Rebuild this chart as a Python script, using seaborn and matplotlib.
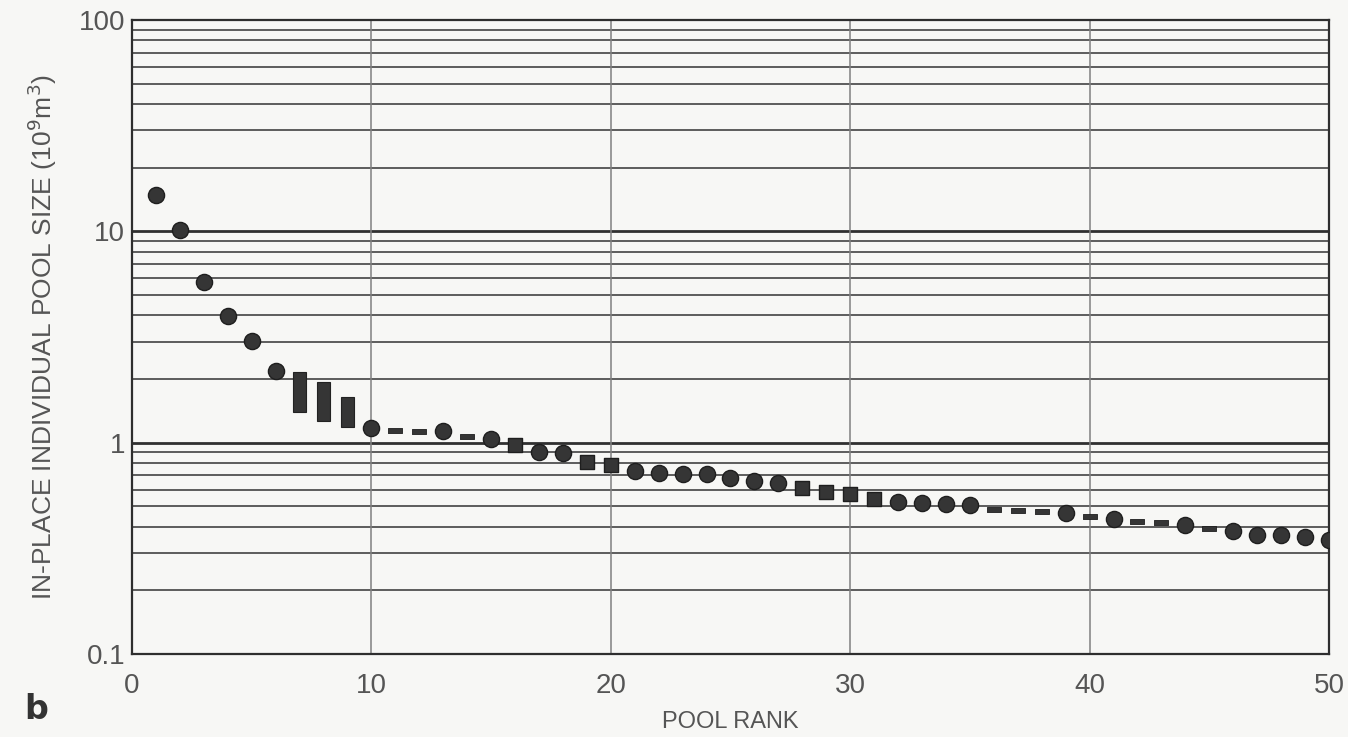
import pandas as pd
import seaborn as sns
import matplotlib.pyplot as plt
from matplotlib import font_manager

# Pool rank vs in-place pool size (10^9 m^3)
circle_rank = [1, 2, 3, 4, 5, 6, 10, 13, 15, 17, 18, 21, 22, 23, 24, 25, 26, 27,
               32, 33, 34, 35, 39, 41, 44, 46, 47, 48, 49, 50]
circle_size = [14.9, 10.1, 5.75, 3.97, 3.03, 2.19, 1.17, 1.13, 1.04, 0.907, 0.89,
               0.735, 0.722, 0.707, 0.707, 0.681, 0.662, 0.643, 0.523, 0.517, 0.514,
               0.505, 0.464, 0.437, 0.410, 0.380, 0.364, 0.364, 0.357, 0.348]
square_rank = [16, 19, 20, 28, 29, 30, 31]
square_size = [0.975, 0.814, 0.787, 0.611, 0.583, 0.569, 0.542]
dash_rank = [11, 12, 14, 36, 37, 38, 40, 42, 43, 45]
dash_size = [1.15, 1.14, 1.075, 0.483, 0.478, 0.476, 0.452, 0.425, 0.421, 0.396]
range_rank = [7, 8, 9]
range_low = [1.40, 1.26, 1.18]
range_high = [2.15, 1.94, 1.64]

x_ticks = [0, 10, 20, 30, 40, 50]
y_ticks = [0.1, 1, 10, 100]
y_tick_labels = ['0.1', '1', '10', '100']

sns.set_style('white')
names = {f.name for f in font_manager.fontManager.ttflist}
narrow = 'Liberation Sans Narrow' if 'Liberation Sans Narrow' in names else 'Liberation Sans'
plt.rcParams['font.family'] = [narrow, 'DejaVu Sans']

text_col = '#555555'
mark_col = '#353535'

fig = plt.figure(figsize=(13.48, 7.37), dpi=100, facecolor='#f7f7f5')
ax = fig.add_axes([0.0979, 0.1126, 0.888, 0.8603])
ax.set_facecolor('#f7f7f5')
ax.set_yscale('log')
ax.set_xlim(0, 50)
ax.set_ylim(0.1, 100)

# grid: horizontal lines at every log step, vertical every 10
for dec in [0.1, 1, 10]:
    for k in range(2, 10):
        ax.axhline(dec * k, color='#505050', lw=1.3, zorder=1)
for v in [1, 10]:
    ax.axhline(v, color='#303030', lw=2.0, zorder=1)
for xv in [10, 20, 30, 40]:
    ax.axvline(xv, color='#808080', lw=1.1, zorder=1)

# ranges (vertical bars)
ax.bar(range_rank, [h - l for h, l in zip(range_high, range_low)], bottom=range_low,
       width=0.55, color=mark_col, edgecolor='#222222', lw=0.8, zorder=3)

circles = pd.DataFrame({'rank': circle_rank, 'size': circle_size})
squares = pd.DataFrame({'rank': square_rank, 'size': square_size})
dashes = pd.DataFrame({'rank': dash_rank, 'size': dash_size})

sns.scatterplot(data=circles, x='rank', y='size', ax=ax, marker='o', s=135,
                color=mark_col, edgecolor='#1e1e1e', linewidth=1.0, zorder=4)
sns.scatterplot(data=squares, x='rank', y='size', ax=ax, marker='s', s=95,
                color=mark_col, edgecolor='#1e1e1e', linewidth=1.0, zorder=4)
dash_marker = [(-1, -0.36), (1, -0.36), (1, 0.36), (-1, 0.36), (-1, -0.36)]
sns.scatterplot(data=dashes, x='rank', y='size', ax=ax, marker=dash_marker, s=100,
                color=mark_col, edgecolor='#1e1e1e', linewidth=0.6, zorder=4)

ax.set_xticks(x_ticks)
ax.set_xticklabels([str(t) for t in x_ticks])
ax.set_yticks(y_ticks)
ax.set_yticklabels(y_tick_labels)
ax.minorticks_off()
ax.tick_params(axis='both', length=0, labelsize=20, colors=text_col)
ax.tick_params(axis='x', pad=14)
ax.tick_params(axis='y', pad=5)

for sp in ax.spines.values():
    sp.set_color('#2e2e2e')
    sp.set_linewidth(1.6)

ax.set_xlabel('POOL RANK', fontsize=17, color=text_col, labelpad=8)
ax.set_ylabel('IN-PLACE INDIVIDUAL POOL SIZE (10$^{9}$m$^{3}$)', fontsize=19,
              color=text_col, labelpad=14)
fig.text(0.018, 0.025, 'b', fontsize=24, fontweight='bold', color='#333333',
         family=['DejaVu Sans'])

fig.savefig('out.png', dpi=100, facecolor=fig.get_facecolor())
